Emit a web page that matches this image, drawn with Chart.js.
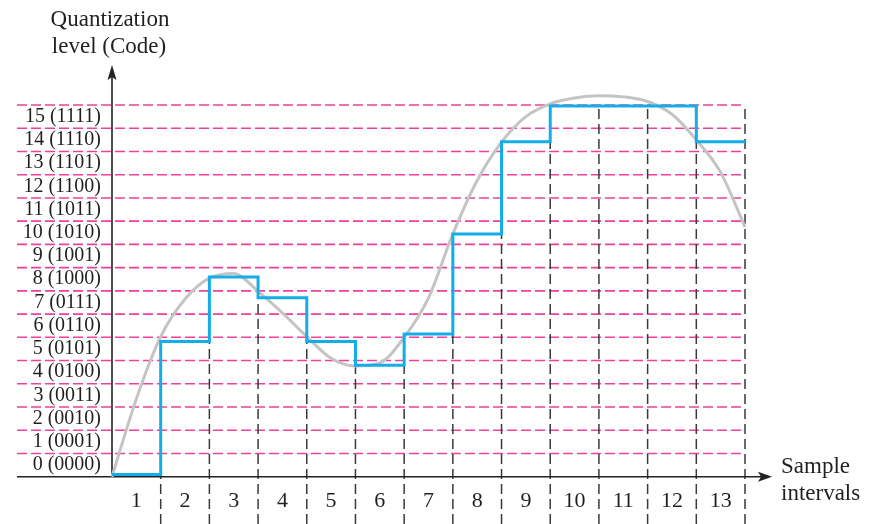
<!DOCTYPE html>
<html>
<head>
<meta charset="utf-8">
<script src="https://cdn.jsdelivr.net/npm/chart.js@4.4.1/dist/chart.umd.min.js"></script>
<style>
html,body{margin:0;padding:0;background:#ffffff;}
#wrap{width:877px;height:524px;position:relative;}
</style>
</head>
<body>
<div id="wrap"><canvas id="c" width="877" height="524"></canvas></div>
<script>
// ---- data ----
const intervals = [1,2,3,4,5,6,7,8,9,10,11,12,13];
const levels = [0,1,2,3,4,5,6,7,8,9,10,11,12,13,14,15];
const codes = ['0000','0001','0010','0011','0100','0101','0110','0111','1000','1001','1010','1011','1100','1101','1110','1111'];
// quantized (held) value in each sample interval, as drawn
const stepValues = [0.1, 5.82, 8.6, 7.7, 5.82, 4.8, 6.14, 10.45, 14.42, 15.96, 15.96, 15.96, 14.42];
// analog signal samples (x in sample intervals)
const curveX = [0,0.5,1,1.5,2,2.5,3,3.5,4,4.5,5,5.5,6,6.5,7,7.5,8,8.5,9,9.5,10,10.5,11,11.5,12,12.5,13];
const curveY = [0,3.35,6.03,7.65,8.55,8.75,7.98,7.05,6.03,5.1,4.77,4.9,6.0,7.7,10.45,12.75,14.4,15.5,16.05,16.3,16.4,16.35,16.15,15.6,14.5,13.1,10.75];
const yTitle = ['Quantization','level (Code)'];
const xTitle = ['Sample','intervals'];

// ---- styles ----
const PINK = '#f0409a';
const BLUE = '#13aee9';
const GRAY = '#c4c4c4';
const INK = '#231f20';
const SERIF = "'Liberation Serif', 'DejaVu Serif', serif";

const stepData = intervals.map((n,i)=>({x:n-1, y:stepValues[i]}));
stepData.push({x:intervals[intervals.length-1], y:stepValues[stepValues.length-1]});
const curveData = curveX.map((x,i)=>({x:x, y:curveY[i]}));
const topLevel = levels[levels.length-1] + 1;

const deco = {
  id:'deco',
  beforeDatasetsDraw(chart){
    const {ctx, scales:{x,y}} = chart;
    const x0 = x.getPixelForValue(0), xEnd = x.getPixelForValue(intervals.length);
    const y0 = y.getPixelForValue(0);
    ctx.save();
    // pink dashed level boundaries
    ctx.strokeStyle = PINK; ctx.lineWidth = 1.6; ctx.setLineDash([10,4]);
    for (let v=1; v<=topLevel; v++){
      const py = y.getPixelForValue(v);
      ctx.beginPath(); ctx.moveTo(17, py); ctx.lineTo(xEnd, py); ctx.stroke();
    }
    // black dashed sample boundaries
    ctx.strokeStyle = '#3a3a3a'; ctx.lineWidth = 1.5; ctx.setLineDash([10,5]);
    for (let b=1; b<=intervals.length; b++){
      const topV = b < intervals.length ? Math.max(stepValues[b-1], stepValues[b]) : topLevel;
      const px = x.getPixelForValue(b);
      ctx.beginPath(); ctx.moveTo(px, 524); ctx.lineTo(px, y.getPixelForValue(topV)); ctx.stroke();
    }
    // axes
    ctx.setLineDash([]);
    ctx.strokeStyle = '#222'; ctx.fillStyle = '#222'; ctx.lineWidth = 1.6;
    ctx.beginPath(); ctx.moveTo(17, y0); ctx.lineTo(762, y0); ctx.stroke();
    ctx.beginPath(); ctx.moveTo(x0, y0); ctx.lineTo(x0, 76); ctx.stroke();
    // arrow heads
    ctx.beginPath(); ctx.moveTo(772, y0); ctx.lineTo(758, y0-5); ctx.lineTo(761, y0); ctx.lineTo(758, y0+5); ctx.closePath(); ctx.fill();
    ctx.beginPath(); ctx.moveTo(x0, 65); ctx.lineTo(x0-4.5, 80); ctx.lineTo(x0, 77); ctx.lineTo(x0+4.5, 80); ctx.closePath(); ctx.fill();
    ctx.restore();
  },
  afterDraw(chart){
    const {ctx} = chart;
    ctx.save();
    ctx.fillStyle = INK;
    ctx.font = "23px " + SERIF;
    ctx.textBaseline = 'alphabetic';
    ctx.textAlign = 'center';
    ctx.fillText(yTitle[0], 110, 26);
    ctx.fillText(yTitle[1], 109, 53);
    ctx.textAlign = 'left';
    ctx.fillText(xTitle[0], 781, 473);
    ctx.fillText(xTitle[1], 781, 500);
    ctx.restore();
  }
};

new Chart(document.getElementById('c'), {
  type:'line',
  data:{
    datasets:[
      {label:'Quantized', data:stepData, stepped:'before', borderColor:BLUE, borderWidth:3,
       pointRadius:0, fill:false, clip:false, borderJoinStyle:'miter', borderCapStyle:'butt'},
      {label:'Analog', data:curveData, borderColor:GRAY, borderWidth:3, pointRadius:0,
       fill:false, clip:false, cubicInterpolationMode:'monotone'}
    ]
  },
  options:{
    responsive:false, animation:false, devicePixelRatio:1,
    layout:{padding:{left:0, right:132, top:105, bottom:0}},
    plugins:{legend:{display:false}, tooltip:{enabled:false}, title:{display:false}},
    scales:{
      x:{type:'linear', min:0, max:intervals.length,
         grid:{display:false, drawTicks:false}, border:{display:false},
         afterFit(s){ s.height = 47.3; },
         afterBuildTicks(s){ s.ticks = intervals.map(n=>({value:n-0.5})); },
         ticks:{autoSkip:false, maxRotation:0, padding:11, color:INK,
                font:{family:SERIF, size:22},
                callback:(v,i)=>String(intervals[i])}},
      y:{type:'linear', min:0, max:topLevel,
         grid:{display:false, drawTicks:false}, border:{display:false},
         afterFit(s){ s.width = 112; },
         afterBuildTicks(s){ s.ticks = levels.map(n=>({value:n+0.5})); },
         ticks:{autoSkip:false, padding:11, color:INK,
                font:{family:SERIF, size:20},
                callback:(v,i)=>levels[i] + ' (' + codes[i] + ')'}}
    }
  },
  plugins:[deco]
});
</script>
</body>
</html>
